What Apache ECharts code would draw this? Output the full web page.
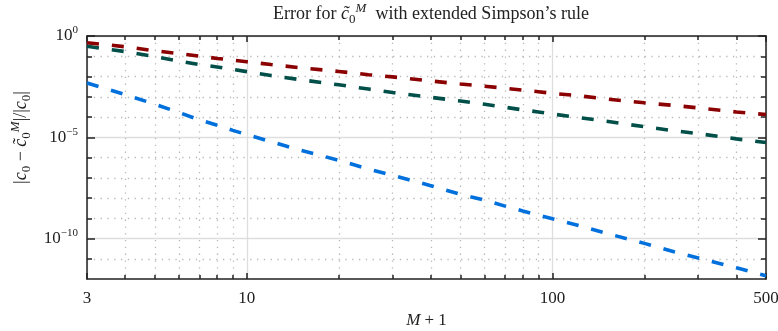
<!DOCTYPE html>
<html>
<head>
<meta charset="utf-8">
<script src="https://cdn.jsdelivr.net/npm/echarts@6/dist/echarts.min.js"></script>
<style>html,body{margin:0;padding:0;background:#fff;}#c{width:778px;height:331px;}</style>
</head>
<body>
<div id="c"></div>
<script>
// M+1 sample positions
const mPlus1 = [3,4,5,6,7,8,9,10,12,15,20,25,30,40,50,60,70,80,90,100,120,150,200,250,300,400,500];
// relative errors
const errRed = [4.68e-1,2.95e-1,1.86e-1,1.35e-1,1.02e-1,7.76e-2,6.46e-2,5.37e-2,3.89e-2,2.69e-2,1.78e-2,1.23e-2,9.55e-3,6.03e-3,4.27e-3,3.31e-3,2.63e-3,2.14e-3,1.78e-3,1.48e-3,1.15e-3,7.76e-4,5.01e-4,3.72e-4,2.82e-4,1.78e-4,1.32e-4];
const errTeal = [3.09e-1,1.70e-1,9.55e-2,5.75e-2,3.89e-2,2.95e-2,2.24e-2,1.74e-2,1.12e-2,6.92e-3,3.89e-3,2.40e-3,1.62e-3,9.33e-4,6.17e-4,4.27e-4,3.02e-4,2.24e-4,1.78e-4,1.41e-4,9.77e-5,6.17e-5,3.31e-5,2.09e-5,1.51e-5,8.32e-6,5.50e-6];
const errBlue = [4.79e-3,1.29e-3,4.27e-4,1.66e-4,7.24e-5,3.89e-5,2.19e-5,1.35e-5,6.03e-6,2.29e-6,7.24e-7,2.69e-7,1.32e-7,4.07e-8,1.51e-8,7.94e-9,3.98e-9,2.29e-9,1.41e-9,9.55e-10,4.68e-10,1.82e-10,5.75e-11,2.24e-11,1.10e-11,3.55e-12,1.45e-12];
// ticks
const xMajorTicks = [3,10,100,500];
const xMinorTicks = [4,5,6,7,8,9,20,30,40,50,60,70,80,90,200,300,400];
const yMajorTicks = [1e0,1e-5,1e-10];
const yMinorTicks = [1e-1,1e-2,1e-3,1e-4,1e-6,1e-7,1e-8,1e-9,1e-11];

const FONT = '"Liberation Serif", "DejaVu Serif", serif';
const INK = '#222';
function richSet(size) {
  const s = Math.round(size * 0.7);
  return {
    n: {fontFamily: FONT, fontSize: size, fontWeight: 'normal', color: INK, lineHeight: size + 6},
    i: {fontFamily: FONT, fontSize: size, fontWeight: 'normal', fontStyle: 'italic', color: INK, lineHeight: size + 6},
    sub: {fontFamily: FONT, fontSize: s, fontWeight: 'normal', fontStyle: 'normal', color: INK, verticalAlign: 'bottom', lineHeight: s + 2},
    sup: {fontFamily: FONT, fontSize: s, fontWeight: 'normal', fontStyle: 'italic', color: INK, verticalAlign: 'top', lineHeight: s + 2}
  };
}
const yLabRich = {
  b: {fontFamily: FONT, fontSize: 17, color: INK, lineHeight: 22},
  s: {fontFamily: FONT, fontSize: 11, color: INK, verticalAlign: 'top', lineHeight: 12}
};

function logAxis(min, max, opts) {
  return Object.assign({
    type: 'log', logBase: 10, min: min, max: max,
    axisLine: {show: false},
    axisTick: {show: false},
    axisLabel: {show: false},
    splitLine: {show: false},
    minorTick: {show: false},
    minorSplitLine: {show: false}
  }, opts);
}
const frameLine = {show: true, onZero: false, lineStyle: {color: INK, width: 1.5}};
const dotted = {show: true, lineStyle: {color: '#b8b8b8', width: 1.3, type: [1.3, 5.5]}};
const solidGrid = {show: true, lineStyle: {color: '#dedede', width: 1.3}};

const chart = echarts.init(document.getElementById('c'), null, {renderer: 'canvas'});
const mk = (ys) => mPlus1.map((x, i) => [x, ys[i]]);
const lineSeries = (name, ys, color) => ({
  name: name, type: 'line', data: mk(ys), xAxisIndex: 0, yAxisIndex: 0,
  symbol: 'none', smooth: false, clip: true, z: 5,
  lineStyle: {color: color, width: 3.6, type: [12, 13], cap: 'butt'}
});

chart.setOption({
  animation: false,
  backgroundColor: '#fff',
  title: {
    text: '{n|Error for }{i|c̃}{sub|0}{sup|M}{n|  with extended Simpson’s rule}',
    left: 426, top: -3, textAlign: 'center',
    textStyle: {fontWeight: 'normal', rich: richSet(18)}
  },
  grid: {left: 87, right: 12, top: 36, bottom: 52, containLabel: false, outerBoundsMode: 'none'},
  xAxis: [
    logAxis(3, 500, {
      position: 'bottom',
      axisLine: frameLine,
      axisTick: {show: true, inside: true, length: 6, customValues: xMajorTicks, lineStyle: {color: INK, width: 1.5}},
      axisLabel: {show: true, customValues: xMajorTicks, margin: 11, fontFamily: FONT, fontSize: 17, color: INK,
                  showMinLabel: true, showMaxLabel: true, formatter: v => String(Math.round(v))},
      splitLine: solidGrid,
      name: '{i|M}{n| + 1}', nameLocation: 'middle', nameGap: 30,
      nameTextStyle: {rich: richSet(17)}
    }),
    logAxis(3, 500, {
      position: 'bottom',
      axisTick: {show: true, inside: true, length: 4, customValues: xMinorTicks, lineStyle: {color: INK, width: 1.5}},
      splitLine: dotted
    }),
    logAxis(3, 500, {
      position: 'top',
      axisLine: frameLine,
      axisTick: {show: true, inside: true, length: 6, customValues: xMajorTicks, lineStyle: {color: INK, width: 1.5}}
    }),
    logAxis(3, 500, {
      position: 'top',
      axisTick: {show: true, inside: true, length: 4, customValues: xMinorTicks, lineStyle: {color: INK, width: 1.5}}
    })
  ],
  yAxis: [
    logAxis(1e-12, 1e0, {
      position: 'left',
      axisLine: frameLine,
      axisTick: {show: true, inside: true, length: 8, customValues: yMajorTicks, lineStyle: {color: INK, width: 1.5}},
      axisLabel: {show: true, customValues: yMajorTicks, margin: 9,
                  formatter: v => { const e = Math.round(Math.log10(v)); return '{b|10}{s|' + (e < 0 ? '−' + (-e) : e) + '}'; },
                  rich: yLabRich},
      splitLine: solidGrid,
      name: '{n||}{i|c}{sub|0}{n| − }{i|c̃}{sub|0}{sup|M}{n||/|}{i|c}{sub|0}{n||}',
      nameLocation: 'middle', nameGap: 54, nameRotate: 90,
      nameTextStyle: {rich: richSet(18), padding: [0, 0, 0, 40]}
    }),
    logAxis(1e-12, 1e0, {
      position: 'left',
      axisTick: {show: true, inside: true, length: 5, customValues: yMinorTicks, lineStyle: {color: INK, width: 1.5}},
      splitLine: dotted
    }),
    logAxis(1e-12, 1e0, {
      position: 'right',
      axisLine: frameLine,
      axisTick: {show: true, inside: true, length: 8, customValues: yMajorTicks, lineStyle: {color: INK, width: 1.5}}
    }),
    logAxis(1e-12, 1e0, {
      position: 'right',
      axisTick: {show: true, inside: true, length: 5, customValues: yMinorTicks, lineStyle: {color: INK, width: 1.5}}
    })
  ],
  series: [
    lineSeries('blue', errBlue, '#0070dd'),
    lineSeries('teal', errTeal, '#004f48'),
    lineSeries('red', errRed, '#8b0000')
  ]
});
</script>
</body>
</html>
